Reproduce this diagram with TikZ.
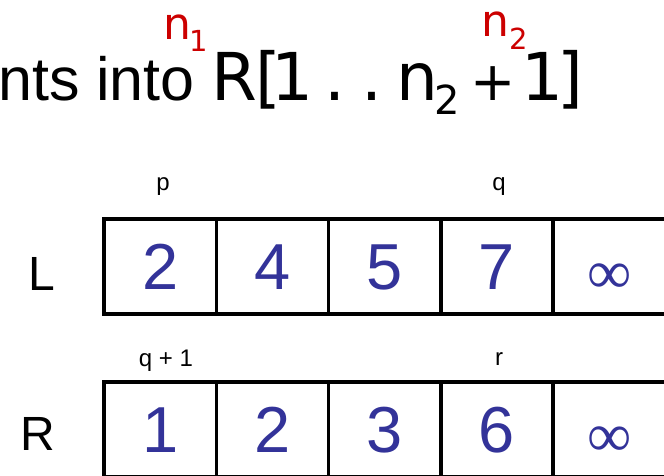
\documentclass[tikz,border=0pt]{standalone}
\usepackage{fontspec}
\setmainfont{Liberation Sans}
\newfontfamily\comicf{DejaVu Sans}
\newfontfamily\symf{Liberation Serif}
\usetikzlibrary{positioning}
\definecolor{numblue}{RGB}{51,51,153}
\definecolor{nred}{RGB}{204,0,0}
\newcommand\ctrbox[1]{\makebox[0pt][c]{#1}}
\begin{document}
\begin{tikzpicture}[x=1pt,y=-1pt,
  cell/.style={draw=black, line width=3.5pt, minimum width=112.3pt, minimum height=95pt,
    inner sep=0pt, outer sep=0pt, text=numblue, font=\fontsize{65}{65}\selectfont,
    text height=46.5pt, text depth=0pt},
  inf/.style={font=\symf\fontsize{62}{62}\selectfont},
  idx/.style={font=\fontsize{24}{24}\selectfont, anchor=base, inner sep=0pt},
  arr/.style={font=\fontsize{48}{48}\selectfont, anchor=base, inner sep=0pt},
  comic/.style={font=\comicf\fontsize{66}{66}\selectfont, anchor=base west, inner sep=0pt},
  redn/.style={font=\comicf\fontsize{44}{44}\selectfont, text=nred, anchor=base west, inner sep=0pt},
]
\fill[white] (0,0) rectangle (664,476);
\useasboundingbox (0,0) rectangle (664,476);

% title
\node[font=\fontsize{61}{61}\selectfont, anchor=base east, inner sep=0pt] (into) at (195,101) {nts into};
\node[comic] (range) at (208,101) {\hspace{26pt}\ctrbox{R}\hspace{34.5pt}\ctrbox{[}\hspace{24pt}\ctrbox{1}\hspace{42.5pt}\ctrbox{.}\hspace{37pt}\ctrbox{.}\hspace{45pt}\ctrbox{n}\hspace{30pt}\ctrbox{\raisebox{-14pt}{\fontsize{40}{40}\selectfont 2}}\hspace{46pt}\ctrbox{\fontsize{54}{54}\selectfont +}\hspace{49pt}\ctrbox{1}\hspace{28pt}\ctrbox{]}\hspace{14pt}};
\node[redn] (n1) at (166,40) {\hspace{11pt}\ctrbox{n}\hspace{22pt}\ctrbox{\raisebox{-12pt}{\fontsize{29}{29}\selectfont 1}}\hspace{7pt}};
\node[redn] (n2) at (483,37) {\hspace{12pt}\ctrbox{n}\hspace{24pt}\ctrbox{\raisebox{-13pt}{\fontsize{29}{29}\selectfont 2}}\hspace{9pt}};

% row labels
\node[arr] (Llab) at (42,290) {L};
\node[arr] (Rlab) at (38,450) {R};

% index labels
\node[idx] (p) at (163,190) {p};
\node[idx] (q) at (499,190) {q};
\node[idx] (q1) at (166,366) {q + 1};
\node[idx] (r) at (499,365) {r};

% L array
\node[cell] (L1) at (160.15,266.5) {2};
\node[cell, right=0pt of L1] (L2) {4};
\node[cell, right=0pt of L2] (L3) {5};
\node[cell, right=0pt of L3] (L4) {7};
\node[cell, inf, right=0pt of L4] (L5) {\raisebox{-4pt}{∞}};

% R array
\node[cell] (R1) at (160.15,429.5) {1};
\node[cell, right=0pt of R1] (R2) {2};
\node[cell, right=0pt of R2] (R3) {3};
\node[cell, right=0pt of R3] (R4) {6};
\node[cell, inf, right=0pt of R4] (R5) {\raisebox{-4pt}{∞}};
\end{tikzpicture}
\end{document}
